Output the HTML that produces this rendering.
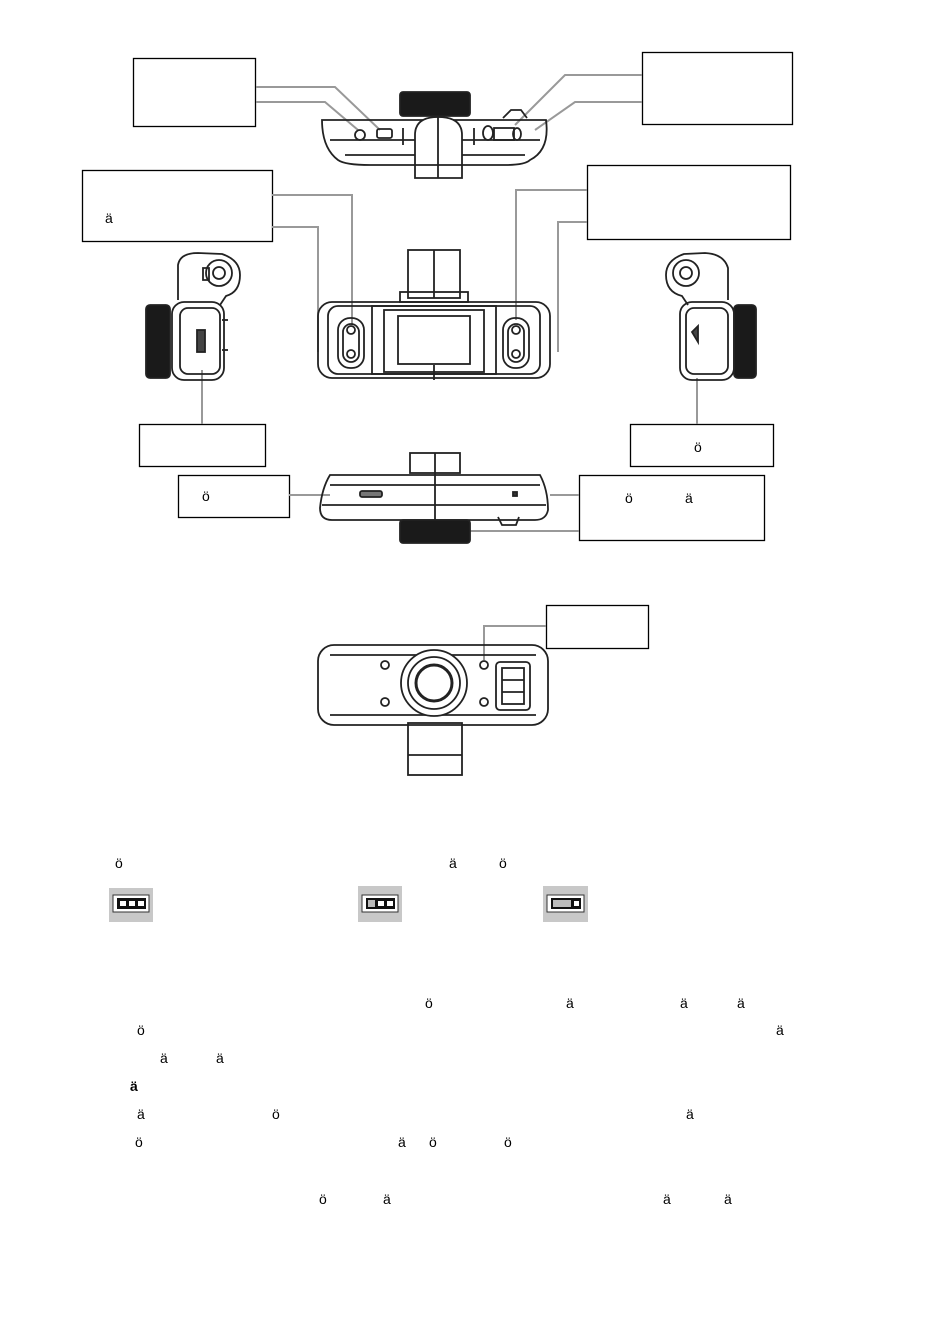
<!DOCTYPE html>
<html><head><meta charset="utf-8"><style>
html,body{margin:0;padding:0;background:#fff;}
svg{display:block;}
text{font-family:"Liberation Sans",sans-serif;font-size:14px;fill:#000;}
</style></head><body>
<svg width="950" height="1328" viewBox="0 0 950 1328" xmlns="http://www.w3.org/2000/svg">
<g fill="none" stroke="#000" stroke-width="1.3">
<rect x="133.5" y="58.5" width="122" height="68"/>
<rect x="642.5" y="52.5" width="150" height="72"/>
<rect x="82.5" y="170.5" width="190" height="71"/>
<rect x="587.5" y="165.5" width="203" height="74"/>
<rect x="139.5" y="424.5" width="126" height="42"/>
<rect x="630.5" y="424.5" width="143" height="42"/>
<rect x="178.5" y="475.5" width="111" height="42"/>
<rect x="579.5" y="475.5" width="185" height="65"/>
<rect x="546.5" y="605.5" width="102" height="43"/>
</g>
<g fill="none" stroke="#999" stroke-width="2">
<polyline points="256,87 335,87 380,130"/>
<polyline points="256,102 325,102 358,130"/>
<polyline points="642,75 565,75 515,125"/>
<polyline points="642,102 575,102 535,130"/>
<polyline points="272,195 352,195 352,325"/>
<polyline points="272,227 318,227 318,352"/>
<polyline points="587,190 516,190 516,320"/>
<polyline points="587,222 558,222 558,352"/>
<line x1="202" y1="370" x2="202" y2="424"/>
<line x1="697" y1="378" x2="697" y2="424"/>
<line x1="289" y1="495" x2="330" y2="495"/>
<polyline points="579,495 550,495"/>
<polyline points="579,531 470,531"/>
<polyline points="546,626 484,626 484,660"/>
</g>
<g fill="none" stroke="#222" stroke-width="1.8">
<rect x="400" y="92" width="70" height="24" rx="3" fill="#1a1a1a"/>
<path d="M503,118 l8,-8 h10 l6,8" />
<path d="M322,120 H546 Q550,150 530,160 Q525,165 505,165 H370 Q345,165 338,160 Q322,148 322,120 Z"/>
<line x1="330" y1="140" x2="540" y2="140"/>
<line x1="345" y1="155" x2="525" y2="155"/>
<circle cx="360" cy="135" r="5"/>
<rect x="377" y="129" width="15" height="9" rx="2"/>
<ellipse cx="488" cy="133" rx="5" ry="7"/>
<rect x="494" y="128" width="20" height="12"/>
<ellipse cx="517" cy="134" rx="4" ry="6"/>
<path d="M415,178 V135 Q415,117 438,117 Q462,117 462,135 V178 Z" fill="#fff"/>
<line x1="438" y1="117" x2="438" y2="178"/>
<line x1="415" y1="165" x2="462" y2="165"/>
<line x1="403" y1="128" x2="403" y2="145"/><line x1="474" y1="128" x2="474" y2="145"/>
</g>
<g fill="none" stroke="#222" stroke-width="1.8">
<rect x="408" y="250" width="52" height="48"/>
<line x1="434" y1="250" x2="434" y2="298"/>
<rect x="400" y="292" width="68" height="10"/>
<rect x="318" y="302" width="232" height="76" rx="14"/>
<rect x="328" y="306" width="212" height="68" rx="10"/>
<rect x="372" y="306" width="124" height="68"/>
<rect x="384" y="310" width="100" height="62"/>
<rect x="398" y="316" width="72" height="48"/>
<rect x="338" y="318" width="26" height="50" rx="12"/>
<rect x="343" y="324" width="16" height="38" rx="8"/>
<circle cx="351" cy="330" r="4"/><circle cx="351" cy="354" r="4"/>
<rect x="503" y="318" width="26" height="50" rx="12"/>
<rect x="508" y="324" width="16" height="38" rx="8"/>
<circle cx="516" cy="330" r="4"/><circle cx="516" cy="354" r="4"/>
<line x1="434" y1="365" x2="434" y2="380"/>
</g>
<g fill="none" stroke="#222" stroke-width="1.8">
<rect x="146" y="305" width="24" height="73" rx="4" fill="#1a1a1a"/>
<path d="M178,300 V265 Q180,253 198,253 L222,254 Q240,260 240,275 Q240,292 226,296 L220,305"/>
<circle cx="219" cy="273" r="13"/><circle cx="219" cy="273" r="6"/>
<path d="M203,268 h6 v12 h-6 z"/>
<rect x="172" y="302" width="52" height="78" rx="12"/>
<rect x="180" y="308" width="40" height="66" rx="8"/>
<rect x="197" y="330" width="8" height="22" fill="#444"/>
<line x1="222" y1="320" x2="228" y2="320"/><line x1="222" y1="350" x2="228" y2="350"/>
</g>
<g fill="none" stroke="#222" stroke-width="1.8">
<rect x="734" y="305" width="22" height="73" rx="4" fill="#1a1a1a"/>
<path d="M728,300 V268 Q724,254 705,253 L684,254 Q666,260 666,275 Q666,292 682,296 L688,305"/>
<circle cx="686" cy="273" r="13"/><circle cx="686" cy="273" r="6"/>
<rect x="680" y="302" width="54" height="78" rx="12"/>
<rect x="686" y="308" width="42" height="66" rx="8"/>
<path d="M692,332 l6,-6 v16 z" fill="#444"/>
</g>
<g fill="none" stroke="#222" stroke-width="1.8">
<rect x="410" y="453" width="50" height="20"/>
<line x1="435" y1="453" x2="435" y2="520"/>
<path d="M330,475 H540 Q548,490 548,510 Q546,520 535,520 H332 Q320,520 320,508 Q322,488 330,475 Z"/>
<line x1="330" y1="485" x2="540" y2="485"/>
<line x1="322" y1="505" x2="546" y2="505"/>
<rect x="360" y="491" width="22" height="6" rx="2" fill="#777"/>
<rect x="513" y="492" width="4" height="4" fill="#333"/>
<rect x="400" y="520" width="70" height="23" rx="3" fill="#1a1a1a"/>
<path d="M498,517 l4,8 h14 l3,-8"/>
</g>
<g fill="none" stroke="#222" stroke-width="1.8">
<rect x="318" y="645" width="230" height="80" rx="16"/>
<line x1="330" y1="655" x2="536" y2="655"/>
<line x1="330" y1="715" x2="536" y2="715"/>
<rect x="408" y="723" width="54" height="52"/>
<line x1="408" y1="755" x2="462" y2="755"/>
<circle cx="434" cy="683" r="33" fill="#fff"/>
<circle cx="434" cy="683" r="26"/>
<circle cx="434" cy="683" r="18" stroke-width="3"/>
<circle cx="385" cy="665" r="4"/><circle cx="385" cy="702" r="4"/>
<circle cx="484" cy="665" r="4"/><circle cx="484" cy="702" r="4"/>
<rect x="496" y="662" width="34" height="48" rx="4"/>
<rect x="502" y="668" width="22" height="36"/>
<line x1="502" y1="680" x2="524" y2="680"/><line x1="502" y1="692" x2="524" y2="692"/>
</g>
<g>
<rect x="109" y="888" width="44" height="34" fill="#c8c8c8"/>
<rect x="113" y="895" width="36" height="17" fill="#fff" stroke="#333"/>
<rect x="117" y="898" width="29" height="11" fill="#111"/>
<rect x="120" y="901" width="6" height="5" fill="#fff"/><rect x="129" y="901" width="6" height="5" fill="#fff"/><rect x="138" y="901" width="6" height="5" fill="#fff"/>
<rect x="358" y="886" width="44" height="36" fill="#c8c8c8"/>
<rect x="362" y="895" width="36" height="17" fill="#fff" stroke="#333"/>
<rect x="366" y="898" width="29" height="11" fill="#111"/>
<rect x="368" y="900" width="7" height="7" fill="#bbb"/><rect x="378" y="901" width="6" height="5" fill="#fff"/><rect x="387" y="901" width="6" height="5" fill="#fff"/>
<rect x="543" y="886" width="45" height="36" fill="#c8c8c8"/>
<rect x="547" y="895" width="37" height="17" fill="#fff" stroke="#333"/>
<rect x="551" y="898" width="30" height="11" fill="#111"/>
<rect x="553" y="900" width="18" height="7" fill="#bbb"/><rect x="574" y="901" width="5" height="5" fill="#fff"/>
</g>
<text x="105" y="223">ä</text>
<text x="694" y="452">ö</text>
<text x="202" y="501">ö</text>
<text x="625" y="503">ö</text><text x="685" y="503">ä</text>
<text x="115" y="868">ö</text><text x="449" y="868">ä</text><text x="499" y="868">ö</text>
<text x="425" y="1008">ö</text><text x="566" y="1008">ä</text><text x="680" y="1008">ä</text><text x="737" y="1008">ä</text>
<text x="137" y="1035">ö</text><text x="776" y="1035">ä</text>
<text x="160" y="1063">ä</text><text x="216" y="1063">ä</text>
<text x="130" y="1091" font-weight="bold">ä</text>
<text x="137" y="1119">ä</text><text x="272" y="1119">ö</text><text x="686" y="1119">ä</text>
<text x="135" y="1147">ö</text><text x="398" y="1147">ä</text><text x="429" y="1147">ö</text><text x="504" y="1147">ö</text>
<text x="319" y="1204">ö</text><text x="383" y="1204">ä</text><text x="663" y="1204">ä</text><text x="724" y="1204">ä</text>
</svg>
</body></html>
